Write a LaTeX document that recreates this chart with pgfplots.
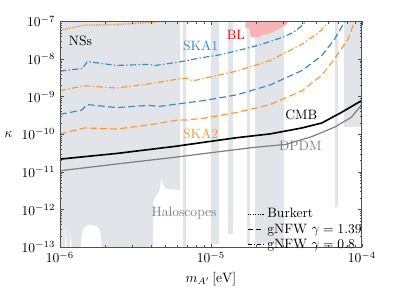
\documentclass[border=0pt]{standalone}
\usepackage{pgfplots}
\pgfplotsset{compat=1.18}
\definecolor{skablue}{RGB}{52,138,200}
\definecolor{skaorange}{RGB}{255,150,50}
\definecolor{halogray}{RGB}{225,228,233}
\definecolor{halotext}{RGB}{115,130,155}
\definecolor{blpink}{RGB}{246,180,182}
\definecolor{axgray}{RGB}{80,80,80}
\begin{document}
\begin{tikzpicture}
\begin{axis}[
  scale only axis, width=222.5pt, height=166.3pt,
  xmin=-6, xmax=-4, ymin=-13, ymax=-7,
  xtick={-6,-5,-4}, xticklabels={$10^{-6}$,$10^{-5}$,$10^{-4}$},
  ytick={-13,-12,-11,-10,-9,-8,-7},
  yticklabels={$10^{-13}$,$10^{-12}$,$10^{-11}$,$10^{-10}$,$10^{-9}$,$10^{-8}$,$10^{-7}$},
  minor xtick={-5.699,-5.523,-5.398,-5.301,-5.222,-5.155,-5.097,-5.046,-4.699,-4.523,-4.398,-4.301,-4.222,-4.155,-4.097,-4.046},
  minor ytick={-12.699,-12.523,-12.398,-12.301,-12.222,-12.155,-12.097,-12.046,
               -11.699,-11.523,-11.398,-11.301,-11.222,-11.155,-11.097,-11.046,
               -10.699,-10.523,-10.398,-10.301,-10.222,-10.155,-10.097,-10.046,
               -9.699,-9.523,-9.398,-9.301,-9.222,-9.155,-9.097,-9.046,
               -8.699,-8.523,-8.398,-8.301,-8.222,-8.155,-8.097,-8.046,
               -7.699,-7.523,-7.398,-7.301,-7.222,-7.155,-7.097,-7.046},
  tick align=inside, tick pos=both,
  major tick length=2.6pt, minor tick length=1.5pt,
  every tick/.style={axgray, line width=0.4pt},
  axis line style={axgray, line width=0.6pt},
  axis on top,
  xlabel={$m_{A'}\,[\mathrm{eV}]$},
  ylabel={$\kappa$},
  ylabel style={rotate=-90},
  legend style={draw=none, fill=none, at={(rel axis cs:0.615,0.19)}, anchor=north west,
    font=\normalsize, row sep=-1.2pt, inner sep=1pt},
  legend cell align=left,
  legend image code/.code={\draw[#1] (0pt,0pt) -- (12pt,0pt);},
]
% Haloscopes
\addplot[fill=halogray, draw=none, forget plot] coordinates {
(-6,-6.9) (-5.204,-6.9) (-5.204,-11.49) (-5.301,-11.44) (-5.320,-11.30) (-5.327,-11.18)
(-5.334,-11.30) (-5.340,-11.49) (-5.379,-11.75) (-5.385,-13.1) (-5.722,-13.1)
(-5.728,-12.7) (-5.741,-12.5) (-5.767,-12.42) (-5.793,-12.40) (-5.819,-12.42)
(-5.845,-12.5) (-5.858,-12.7) (-5.864,-13.1) (-5.922,-13.1) (-5.929,-12.5)
(-5.935,-13.1) (-5.955,-13.1) (-5.961,-12.45) (-5.968,-13.1) (-6,-13.1)} -- cycle;
\addplot[fill=halogray, draw=none, forget plot] coordinates {(-5.184,-6.9) (-5.165,-6.9) (-5.165,-13.1) (-5.184,-13.1)} -- cycle;
\addplot[fill=halogray, draw=none, forget plot] coordinates {(-4.997,-6.9) (-4.945,-6.9) (-4.945,-12.92) (-4.997,-12.92)} -- cycle;
\addplot[fill=halogray, draw=none, forget plot] coordinates {(-4.887,-6.9) (-4.854,-6.9) (-4.854,-12.66) (-4.887,-12.66)} -- cycle;
\addplot[fill=halogray, draw=none, forget plot] coordinates {(-4.764,-6.9) (-4.744,-6.9) (-4.744,-12.92) (-4.764,-12.92)} -- cycle;
\addplot[fill=halogray, draw=none, forget plot] coordinates {(-4.706,-6.9) (-4.518,-6.9) (-4.518,-12.92) (-4.706,-12.92)} -- cycle;
\addplot[fill=halogray, draw=none, forget plot] coordinates {(-4.181,-6.9) (-4.155,-6.9) (-4.155,-11.94) (-4.181,-11.94)} -- cycle;
\addplot[fill=halogray, draw=none, forget plot] coordinates {(-4.117,-6.9) (-3.99,-6.9) (-3.99,-9.81) (-4.117,-9.81)} -- cycle;
% BL
\addplot[fill=blpink, draw=none, forget plot] coordinates {
(-4.771,-6.9) (-4.771,-7.16) (-4.742,-7.20) (-4.738,-7.42) (-4.680,-7.42) (-4.660,-7.36)
(-4.610,-7.32) (-4.570,-7.24) (-4.520,-7.14) (-4.492,-7.05) (-4.492,-6.9)} -- cycle;
% DPDM
\addplot[black!50, line width=0.9pt, forget plot] coordinates {
(-6,-10.97) (-5.625,-10.79) (-5.236,-10.61) (-5.042,-10.51) (-4.718,-10.35)
(-4.505,-10.27) (-4.330,-10.06) (-4.181,-9.81) (-4.071,-9.55) (-4.0,-9.21)};
% CMB
\addplot[black, line width=1.2pt, forget plot] coordinates {
(-6,-10.66) (-5.625,-10.51) (-5.236,-10.32) (-5.042,-10.21) (-4.828,-10.09)
(-4.608,-9.99) (-4.395,-9.83) (-4.266,-9.70) (-4.136,-9.42) (-4.0,-9.10)};
% SKA1 gNFW 0.8
\addplot[skablue, line width=0.85pt, dash pattern=on 4.5pt off 1.8pt on 1pt off 1.8pt, forget plot] coordinates {
(-6,-8.32) (-5.851,-8.25) (-5.819,-8.065) (-5.625,-8.17) (-5.411,-8.14) (-5.366,-8.17)
(-5.2,-8.07) (-5.042,-7.95) (-4.958,-7.90) (-4.828,-7.78) (-4.673,-7.62) (-4.608,-7.53)
(-4.524,-7.42) (-4.45,-7.28) (-4.40,-7.12) (-4.36,-6.95) (-4.34,-6.85)};
% SKA1 gNFW 1.39
\addplot[skablue, line width=0.85pt, dash pattern=on 5pt off 2.5pt, forget plot] coordinates {
(-6,-9.47) (-5.858,-9.36) (-5.819,-9.21) (-5.625,-9.29) (-5.411,-9.23) (-5.346,-9.26)
(-5.042,-9.10) (-4.828,-8.95) (-4.608,-8.69) (-4.395,-8.30) (-4.266,-7.91) (-4.181,-7.47)
(-4.117,-7.03) (-4.10,-6.9)};
% SKA2 gNFW 0.8
\addplot[skaorange, line width=0.85pt, dash pattern=on 4.5pt off 1.8pt on 1pt off 1.8pt, forget plot] coordinates {
(-6,-8.84) (-5.838,-8.71) (-5.625,-8.77) (-5.411,-8.66) (-5.217,-8.53) (-5.159,-8.51)
(-5.120,-8.58) (-5.042,-8.51) (-4.828,-8.32) (-4.608,-8.04) (-4.395,-7.60) (-4.285,-7.29)
(-4.214,-7.0) (-4.20,-6.9)};
% SKA2 gNFW 1.39
\addplot[skaorange, line width=0.85pt, dash pattern=on 5pt off 2.5pt, forget plot] coordinates {
(-6,-9.99) (-5.838,-9.83) (-5.625,-9.86) (-5.411,-9.75) (-5.217,-9.62) (-5.159,-9.62)
(-5.042,-9.57) (-4.828,-9.42) (-4.608,-9.21) (-4.395,-8.84) (-4.266,-8.43) (-4.181,-7.99)
(-4.091,-7.47) (-4.052,-7.03) (-4.045,-6.9)};
% SKA2 Burkert
\addplot[skaorange, line width=1.1pt, dash pattern=on 0.9pt off 0.9pt, forget plot] coordinates {
(-6,-7.23) (-5.838,-7.10) (-5.625,-7.08) (-5.411,-7.03) (-5.346,-7.0) (-5.236,-6.92)};
% labels
\node[font=\normalsize] at (axis cs:-5.864,-7.52) {NSs};
\node[font=\normalsize, text=skablue] at (axis cs:-5.068,-7.65) {SKA1};
\node[font=\normalsize, text=skaorange] at (axis cs:-5.068,-9.99) {SKA2};
\node[font=\normalsize, text=red] at (axis cs:-4.835,-7.36) {BL};
\node[font=\normalsize] at (axis cs:-4.401,-9.49) {CMB};
\node[font=\normalsize, text=black!50] at (axis cs:-4.408,-10.30) {DPDM};
\node[font=\normalsize, text=halotext] at (axis cs:-5.178,-12.09) {Haloscopes};
% legend
\addlegendimage{black, line width=0.8pt, dash pattern=on 0.9pt off 0.9pt}
\addlegendentry{Burkert}
\addlegendimage{black, line width=0.8pt, dash pattern=on 4pt off 2pt}
\addlegendentry{gNFW $\gamma = 1.39$}
\addlegendimage{black, line width=0.8pt, dash pattern=on 3pt off 1.5pt on 1pt off 1.5pt}
\addlegendentry{gNFW $\gamma = 0.8$}
\coordinate (bbl) at (rel axis cs:-0.1683,-0.1991);
\coordinate (btr) at (rel axis cs:1.1230,1.0952);
\end{axis}
\path (bbl) rectangle (btr);
\end{tikzpicture}
\end{document}
